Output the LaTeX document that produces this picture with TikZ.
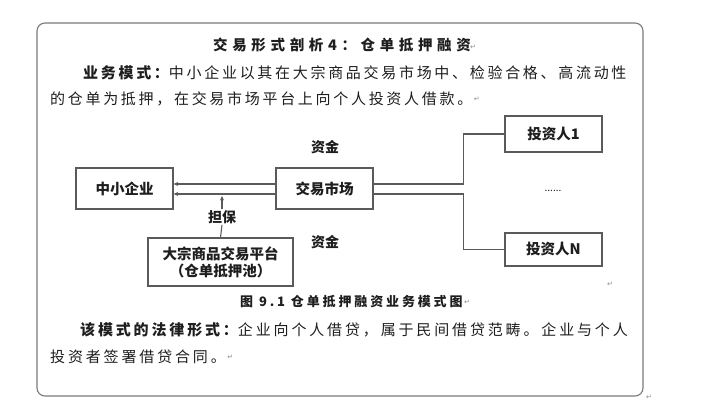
\documentclass[tikz,border=0pt]{standalone}
\usepackage{fontspec}
\newfontfamily\cjk{Noto Sans CJK SC}
\newfontfamily\dv{DejaVu Sans}
\usetikzlibrary{arrows.meta}
\definecolor{linegray}{HTML}{5A5A5A}
\definecolor{framegray}{HTML}{7A7A7A}
\definecolor{txt}{HTML}{1E1E1E}
\definecolor{mark}{HTML}{8A8A8A}
\tikzset{
  boxnode/.style={draw=linegray, line width=1.2pt, inner sep=0pt, text=txt,
    font=\cjk\bfseries\fontsize{14.5}{17}\selectfont, align=center},
  conn/.style={draw=linegray, line width=1.1pt},
  arr/.style={conn, -{Stealth[length=4.5pt,width=4pt]}},
  para/.style={anchor=west, inner sep=0pt, text=txt},
  pmark/.style={inner sep=0pt, text=mark, font=\dv\fontsize{7}{7}\selectfont},
  lbl/.style={inner sep=0pt, text=txt, font=\cjk\bfseries\fontsize{14}{14}\selectfont}
}
\begin{document}
\begin{tikzpicture}[x=1pt,y=-1pt]
\useasboundingbox (0,0) rectangle (702,419);
\draw[rounded corners=8pt, draw=framegray, line width=1.1pt] (37,23) rectangle (643,396);

% title
\node[para] (title) at (213,45) {\cjk\bfseries\fontsize{14.5}{15}\selectfont\addfontfeature{LetterSpace=32}交易形式剖析4：仓单抵押融资};
\node[pmark] (m1) at (473,47) {↵};

% paragraph 1
\node[para] (p1) at (83,73) {\cjk\fontsize{15}{15}\selectfont\addfontfeature{LetterSpace=18}{\bfseries 业务模式：}中小企业以其在大宗商品交易市场中、检验合格、高流动性};
\node[para] (p2) at (50,99) {\cjk\fontsize{15}{15}\selectfont\addfontfeature{LetterSpace=18}的仓单为抵押，在交易市场平台上向个人投资人借款。};
\node[pmark, anchor=west] (m2) at (p2.east) {\,↵};

% diagram
\node[boxnode, minimum width=97pt, minimum height=41pt] (sme) at (124.5,188.5) {中小企业};
\node[boxnode, minimum width=97pt, minimum height=41pt] (market) at (324.5,188.5) {交易市场};
\node[boxnode, minimum width=145pt, minimum height=48pt] (plat) at (220.5,262) {大宗商品交易平台\\（仓单抵押池）};
\node[boxnode, minimum width=97pt, minimum height=36pt] (inv1) at (553.5,134) {投资人1};
\node[boxnode, minimum width=97pt, minimum height=33pt] (invN) at (553.5,249.5) {投资人N};

\node[lbl] (f1) at (325,147) {资金};
\node[lbl] (f2) at (325,242) {资金};
\node[lbl, fill=white, inner sep=1pt] (guar) at (222,217) {担保};
\node[inner sep=0pt, text=txt, font=\cjk\fontsize{10}{10}\selectfont] (dots) at (553,191) {......};
\node[pmark] (m3) at (610,284) {↵};

\coordinate (mU) at ([yshift=4.5pt]market.west);
\coordinate (mL) at ([yshift=-5.5pt]market.west);
\coordinate (sU) at ([yshift=4.5pt]sme.east);
\coordinate (sL) at ([yshift=-5.5pt]sme.east);
\coordinate (eU) at ([yshift=4.5pt]market.east);
\coordinate (eL) at ([yshift=-5.5pt]market.east);

\draw[arr] (mU) -- (sU);
\draw[arr] (mL) -- (sL);
\draw[conn] (plat.north) -- (guar.south);
\draw[arr] (guar.north) -- ([yshift=-2pt]guar.north |- sL);
\draw[conn] (eU) -- ++(90,0) |- (inv1.west);
\draw[conn] (eL) -- ++(90,0) |- (invN.west);

% caption
\node[para] (cap) at (240,302) {\cjk\bfseries\fontsize{13}{13}\selectfont\addfontfeature{LetterSpace=22}图 9.1 仓单抵押融资业务模式图};
\node[pmark, anchor=west] (m4) at (cap.east) {\,↵};

% paragraph 2
\node[para] (p3) at (80,330) {\cjk\fontsize{15}{15}\selectfont\addfontfeature{LetterSpace=19}{\bfseries 该模式的法律形式：}企业向个人借贷，属于民间借贷范畴。企业与个人};
\node[para] (p4) at (50,357) {\cjk\fontsize{15}{15}\selectfont\addfontfeature{LetterSpace=19}投资者签署借贷合同。};
\node[pmark, anchor=west] (m5) at (p4.east) {\,↵};
\node[pmark] (m6) at (649,397) {↵};
\end{tikzpicture}
\end{document}
